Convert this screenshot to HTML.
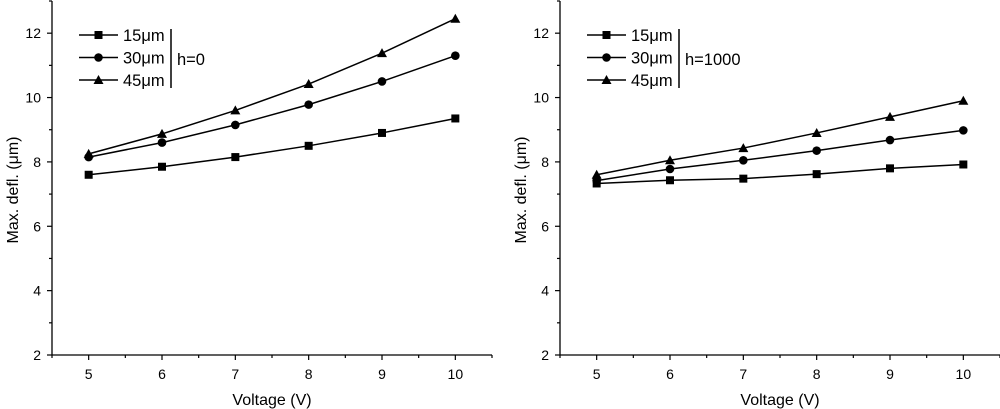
<!DOCTYPE html>
<html><head><meta charset="utf-8"><style>
body{margin:0;background:#fff}
svg{display:block;font-family:"Liberation Sans",Arial,sans-serif}
</style></head><body>
<svg id="chart" width="1000" height="409" viewBox="0 0 1000 409"></svg>
<script>
const xCategories=[5,6,7,8,9,10];
const xTicks=[5,6,7,8,9,10];
const yTicks=[2,4,6,8,10,12];
const seriesNames=["15μm","30μm","45μm"];
const left15=[7.6,7.85,8.15,8.5,8.9,9.35];
const left30=[8.15,8.6,9.15,9.78,10.5,11.3];
const left45=[8.25,8.87,9.6,10.42,11.38,12.45];
const right15=[7.33,7.43,7.48,7.62,7.8,7.92];
const right30=[7.42,7.78,8.05,8.35,8.68,8.98];
const right45=[7.6,8.05,8.43,8.9,9.4,9.9];

const NS="http://www.w3.org/2000/svg";
const svg=document.getElementById('chart');
function mk(tag,attrs,parent){const e=document.createElementNS(NS,tag);for(const k in attrs)e.setAttribute(k,attrs[k]);(parent||svg).appendChild(e);return e;}

function panel(x0,pname,hlabel,data){
  const g=mk('g',{});
  
  
  const xL=x0, xR=x0+440, yB=355, yT=1;
  const sx=v=>xL+(v-4.5)/6*(xR-xL);
  const sy=v=>yB-(v-2)/11*(yB-yT);
  const ax=mk('path',{d:`M${xL},${yT}V${yB}H${xR}`,stroke:'#000','stroke-width':1.3,fill:'none'},g);
  
  
  for(let v=4.5;v<=10.51;v+=0.5){
    const major=Math.abs(v-Math.round(v))<1e-6;
    mk('line',{x1:sx(v),x2:sx(v),y1:yB,y2:yB+(major?5:3),stroke:'#000','stroke-width':1.2},g);
  }
  xTicks.forEach(v=>{
    const t=mk('text',{x:sx(v),y:yB+24,'text-anchor':'middle','font-size':14},g);
    t.textContent=v;
    
    
  });
  for(let v=2;v<=13.01;v+=1){
    const major=v%2===0;
    mk('line',{x1:xL,x2:xL-(major?5:3),y1:sy(v),y2:sy(v),stroke:'#000','stroke-width':1.2},g);
  }
  yTicks.forEach(v=>{
    const t=mk('text',{x:xL-11,y:sy(v)+5,'text-anchor':'end','font-size':14},g);
    t.textContent=v;
    
    
  });
  const xt=mk('text',{x:(xL+xR)/2,y:405,'text-anchor':'middle','font-size':16},g);
  xt.textContent='Voltage (V)';
  
  
  const yt=mk('text',{x:0,y:0,'text-anchor':'middle','font-size':16,transform:`translate(${xL-34},190) rotate(-90)`},g);
  yt.textContent='Max. defl. (μm)';
  
  
  const markers=['square','circle','triangle'];
  function marker(type,x,y,parent){
    let m;
    if(type==='square')m=mk('rect',{x:x-4,y:y-4,width:8,height:8,fill:'#000'},parent);
    else if(type==='circle')m=mk('circle',{cx:x,cy:y,r:4.3,fill:'#000'},parent);
    else m=mk('path',{d:`M${x},${y-5}L${x+5},${y+4}L${x-5},${y+4}Z`,fill:'#000'},parent);
    return m;
  }
  data.forEach((arr,i)=>{
    const sg=mk('g',{},g);
    
    
    const pts=arr.map((v,j)=>[sx(xCategories[j]),sy(v)]);
    mk('polyline',{points:pts.map(p=>p.join(',')).join(' '),fill:'none',stroke:'#000','stroke-width':1.5},sg);
    pts.forEach(p=>{
      const m=marker(markers[i],p[0],p[1],sg);
      
      
    });
  });
  const lg=mk('g',{},g);
  
  
  const lx=xL+27;
  seriesNames.forEach((n,i)=>{
    const y=35+i*22.5;
    mk('line',{x1:lx,x2:lx+39,y1:y,y2:y,stroke:'#000','stroke-width':1.5},lg);
    marker(markers[i],lx+19.5,y,lg);
    const t=mk('text',{x:lx+44,y:y+6,'font-size':16.5},lg);
    t.textContent=n;
    
    
  });
  mk('line',{x1:lx+92,x2:lx+92,y1:29,y2:88,stroke:'#000','stroke-width':1.5},lg);
  const h=mk('text',{x:lx+98,y:65,'font-size':16.5},lg);
  h.textContent=hlabel;
  
  
}
panel(52,'left-panel','h=0',[left15,left30,left45]);
panel(560,'right-panel','h=1000',[right15,right30,right45]);
</script>
</body></html>
